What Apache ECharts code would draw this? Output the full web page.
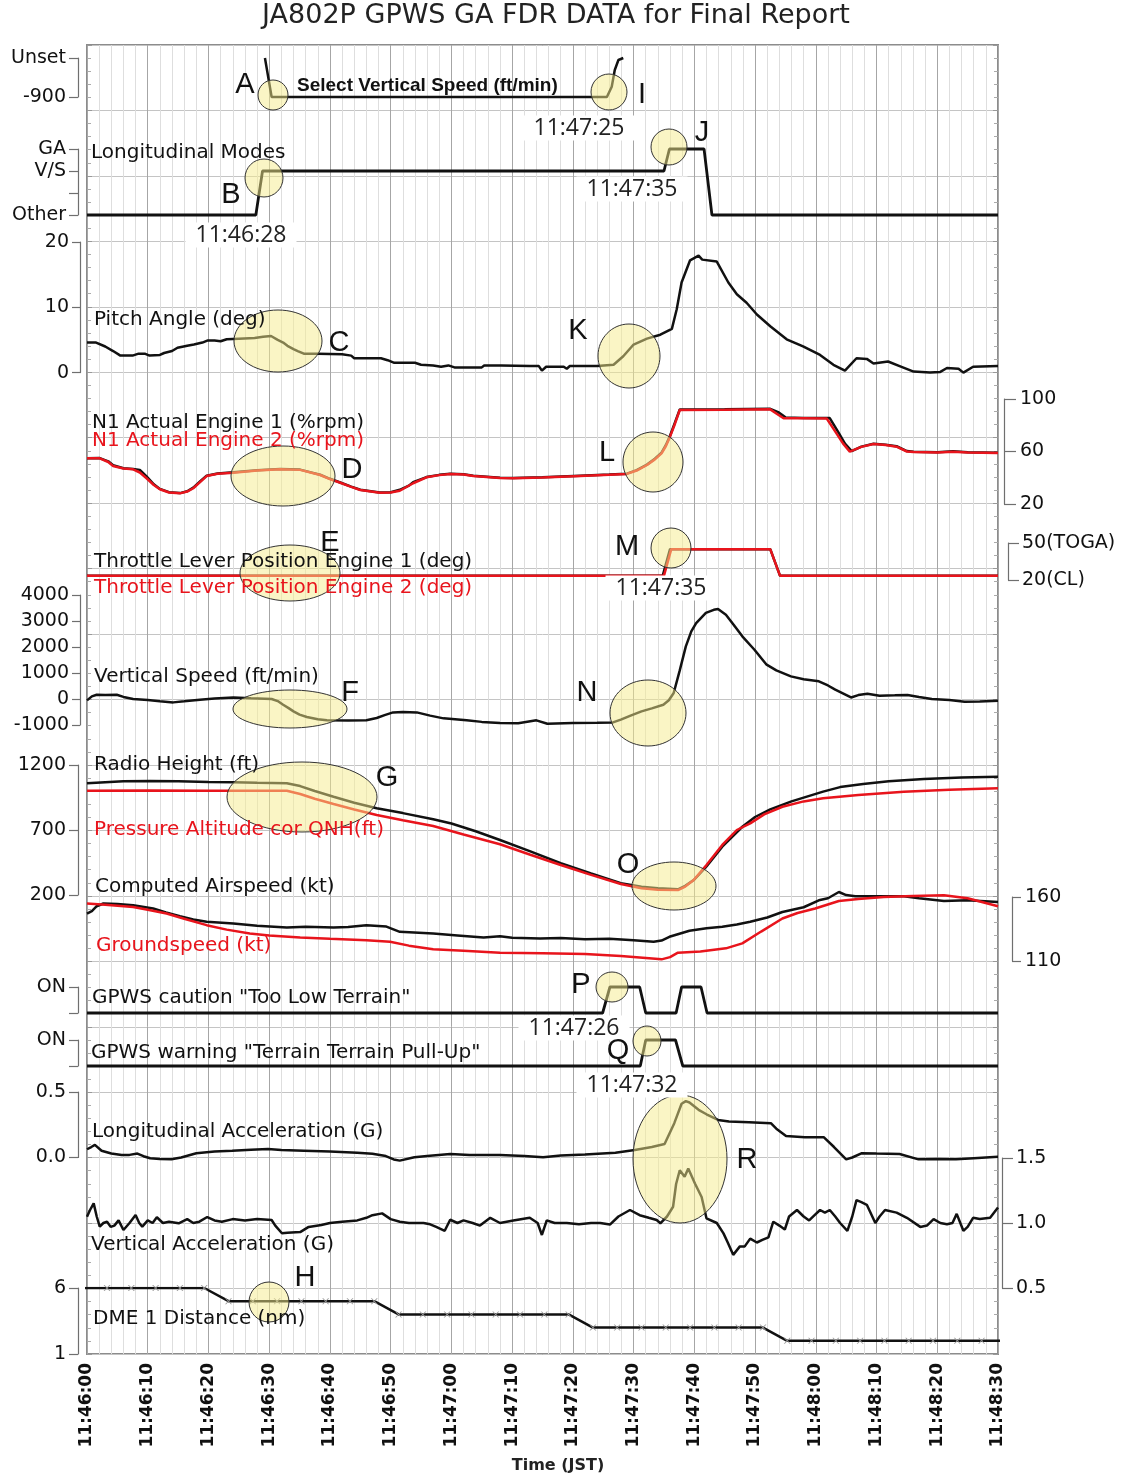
<!DOCTYPE html>
<html>
<head>
<meta charset="utf-8">
<title>JA802P GPWS GA FDR DATA for Final Report</title>
<script src="https://cdn.jsdelivr.net/npm/echarts@6/dist/echarts.min.js"></script>
<style>
  html, body { margin: 0; padding: 0; background: #fff; }
  #chart { width: 1133px; height: 1479px; }
</style>
</head>
<body>
<div id="chart"></div>
<script>
// ---- data: [seconds after 11:46:00, value] ----
const selectVs = [[29.3, 0], [30.4, -900], [85.6, -900], [86.4, -662], [86.9, -277], [87.5, -46], [88.3, 0]]
// 0 = Other, 2 = V/S, 3 = GA
const longModes = [[0, 0], [27.8, 0], [28.9, 2], [95, 2], [95.9, 3], [101.6, 3], [102.9, 0], [150, 0]]

const pitchAngle = [[0, 4.6], [1.5, 4.6], [3, 4.0], [4.3, 3.3], [5.5, 2.6], [7.5, 2.6], [8.5, 2.9], [9.5, 2.9], [10.3, 2.6], [12, 2.7],
  [12.7, 3.0], [14, 3.3], [14.9, 3.8], [16.5, 4.1], [17.6, 4.3], [19, 4.6], [19.8, 4.9], [21, 4.9], [22, 4.8], [23, 5.1], [25, 5.2],
  [27.6, 5.3], [29, 5.5], [30.3, 5.6], [31.4, 5.0], [32.3, 4.6], [33, 4.1], [34, 3.6], [34.7, 3.3], [35.7, 2.9], [38, 2.9], [42, 2.8],
  [43.5, 2.6], [44, 2.2], [48.4, 2.2], [49.5, 1.9], [50.6, 1.5], [54, 1.5], [55, 1.2], [57, 1.1], [58.3, 0.9], [59.5, 1.1], [60.5, 0.8],
  [65, 0.8], [65.4, 1.1], [68.2, 1.1], [72.9, 1.0], [74.4, 1.0], [74.9, 0.3], [75.6, 0.9], [78.5, 0.9], [79, 0.6], [79.5, 1.0], [84, 1.0],
  [86.7, 1.2], [88.3, 2.5], [90, 4.3], [92.2, 5.2], [94.4, 5.8], [96.3, 6.7], [97.1, 9.7], [97.9, 13.8], [99.3, 17.2], [100.7, 17.9],
  [101.3, 17.3], [103.7, 17.0], [105.6, 13.8], [107, 12.0], [108.6, 10.7], [110.3, 8.9], [112.5, 7.1], [115.2, 5.1], [117.9, 4.0],
  [120.7, 2.7], [122.9, 1.2], [124.8, 0.3], [126.7, 2.2], [128.4, 2.1], [129.5, 1.4], [131.9, 1.7], [133.8, 1.0], [136.1, 0.15],
  [138.8, 0.0], [140.5, 0.1], [141.6, 0.7], [143.5, 0.6], [144.3, 0.0], [145.9, 0.9], [150, 1.0]]

const n1Eng1 = [[0, 54.8], [2.1, 55], [3.5, 52.5], [4.3, 49.5], [6, 47.2], [7.6, 46.6], [8.7, 46], [9.8, 41], [11, 35], [12, 31.5],
  [13.5, 29], [15.3, 28.3], [16.5, 29.7], [17.5, 32.5], [18.7, 37.5], [19.7, 41.6], [21.5, 43.2], [24.1, 44.1], [28, 45.7], [31.8, 46.6],
  [35.1, 46.2], [38.4, 42.3], [40, 39.2], [41.7, 36.4], [43.5, 33.2], [45, 30.9], [48.2, 28.8], [50, 29], [51.5, 30.8], [53, 34],
  [53.7, 36.6], [55.9, 40.5], [58, 42.2], [59.8, 43.1], [62, 42.7], [63.6, 41.5], [68, 40], [70.2, 39.8], [75, 40.3], [81.2, 41.5],
  [86, 42.4], [88.9, 43.1], [90.5, 45.8], [92.2, 50], [93.5, 54.5], [94.6, 59.2], [95.3, 64.8], [96, 72], [96.8, 82], [97.6, 92],
  [105, 92.2], [112.5, 92.5], [113.8, 90], [115, 86], [118, 85.5], [122.3, 85.5], [123.8, 74], [124.8, 66], [125.9, 60.3], [127.5, 63.7],
  [129.5, 65.9], [131.5, 65.2], [133.3, 64], [135, 60.3], [136.1, 59.8], [140, 59.4], [142.6, 60.2], [145, 59.5], [150, 59]]
const n1Eng2 = [[0, 54.8], [2.1, 54.8], [3.5, 52], [4.3, 48.9], [6, 47], [7.6, 46.4], [8.7, 44], [9.8, 39.6], [11, 34.5], [12, 31.2],
  [13.5, 28.8], [15.3, 28.1], [16.5, 29.5], [17.5, 32], [18.7, 37], [19.7, 41.3], [21.5, 43], [24.1, 43.9], [28, 45.5], [31.8, 46.4],
  [35.1, 46], [38.4, 42.1], [40, 39], [41.7, 36.2], [43.5, 33], [45, 30.7], [48.2, 28.6], [50, 28.8], [51.5, 30.1], [53.7, 35.8],
  [55.9, 40.3], [58, 42], [59.8, 42.9], [62, 42.5], [63.6, 41.3], [68, 39.8], [70.2, 39.6], [75, 40.1], [81.2, 41.3], [86, 42.2],
  [88.9, 42.9], [90.5, 45.5], [92.2, 49.7], [93.5, 54], [94.6, 58.6], [95.3, 64], [96, 71.3], [96.8, 81], [97.6, 91.6], [105, 91.8],
  [112.5, 92.1], [113.5, 89], [114.7, 85.3], [118, 85.3], [121.8, 85.1], [123.4, 73.8], [124.5, 66], [125.6, 59.9], [127.5, 63.5],
  [129.5, 65.7], [131.5, 65], [133.3, 63.7], [135, 60], [136.1, 59.6], [140, 59.2], [142.6, 59.9], [145, 59.3], [150, 58.8]]

const throttleEng1 = [[0, 23.5], [94.8, 23.5], [96, 45], [112.5, 45], [114.1, 23.5], [150, 23.5]]
const throttleEng2 = [[0, 23.5], [95, 23.5], [96.2, 45], [112.5, 45], [114.1, 23.5], [150, 23.5]]

const verticalSpeed = [[0, -54], [0.8, 100], [1.6, 165], [3, 150], [4.9, 165], [6, 80], [7.6, 0], [10, -40], [12, -90], [14.2, -130],
  [16, -90], [18.6, -27], [21, 20], [24.1, 60], [27, 30], [30.4, 0], [31.4, -80], [32.3, -220], [33.2, -350], [34, -475], [35, -600],
  [36.2, -690], [38, -780], [39.5, -820], [43, -830], [46, -820], [47.7, -730], [49, -620], [50.4, -515], [52, -500], [54.3, -515],
  [56.5, -640], [58.7, -745], [62.5, -820], [65, -880], [68, -925], [71, -930], [74, -820], [75.8, -950], [80, -920], [84, -910],
  [86.6, -900], [87.9, -795], [89.5, -640], [91.3, -475], [93, -360], [94.9, -220], [95.8, -50], [96.6, 230], [97.6, 1100], [98.6, 2025],
  [99.5, 2600], [100.3, 2920], [101.9, 3310], [103.2, 3430], [103.9, 3460], [105.2, 3240], [106.5, 2850], [107.9, 2410], [109.9, 1895],
  [111.9, 1320], [113.5, 1100], [115.9, 870], [118, 760], [120.5, 680], [122, 520], [123.2, 360], [125.8, 60], [127, 150], [128.5, 205],
  [130.5, 125], [133, 140], [135.1, 155], [137, 80], [139.1, 0], [142, -40], [144.5, -105], [147, -100], [150, -70]]

const radioHeight = [[0, 1059], [3, 1068], [6, 1075], [10.4, 1077], [15, 1075], [20, 1070], [24.1, 1067], [28, 1063], [32.9, 1059],
  [35.1, 1038], [37.5, 1000], [40.6, 956], [44, 910], [47.7, 867], [52, 830], [57, 782], [60, 750], [64, 690], [68, 623], [73, 535],
  [78, 444], [83, 365], [87.9, 290], [91.3, 264], [94, 252], [97.3, 244], [98.5, 270], [99.9, 315], [102, 420], [104.6, 572], [107.9, 725],
  [110, 800], [112.5, 859], [116, 920], [121.2, 995], [124, 1030], [127.8, 1054], [132, 1075], [137.8, 1092], [144, 1103], [150, 1110]]
const pressureAlt = [[0, 1002], [10, 1003], [20, 1002], [32.9, 1002], [35.1, 977], [37.5, 940], [40.6, 900], [44, 858], [47.7, 815],
  [52, 775], [57, 731], [62, 665], [68, 590], [73, 510], [78, 431], [83, 355], [87.9, 285], [91.3, 252], [94, 240], [97.3, 238],
  [98.5, 265], [99.9, 315], [102, 430], [104.6, 585], [107, 700], [109.2, 751], [111.5, 820], [114.5, 879], [118, 920], [121.2, 944],
  [127, 970], [134.5, 995], [142, 1010], [150, 1021]]

const airspeed = [[0, 147.1], [0.8, 149], [1.6, 152.8], [2.7, 154.9], [5, 154.5], [7.6, 153.5], [10.9, 151], [13, 148], [15.3, 145],
  [17.5, 142.5], [19.7, 140.6], [24.1, 139.3], [28, 137.5], [32.9, 136.2], [36, 136.8], [40.6, 136.2], [43, 136.5], [46, 138], [49.3, 136.9],
  [51.5, 132.8], [57, 131.5], [61, 130], [65.3, 128.4], [68, 129.4], [70, 128.2], [74.6, 127.6], [78, 128], [82, 127], [86, 127.4],
  [90, 126.3], [93.3, 125], [94.6, 126], [95.9, 128.9], [99.2, 133.6], [102, 135.5], [104.6, 136.7], [107, 138.5], [109.2, 140.6],
  [112, 144], [114.5, 148.3], [118, 152], [120.5, 157.4], [122, 159], [123.8, 163.9], [125, 161.5], [126.5, 160.5], [130, 160.5],
  [134.5, 160.5], [137, 159], [141.1, 156.9], [145, 157.5], [150, 156.1]]
const groundspeed = [[0, 154.9], [3, 154], [7.6, 152.2], [10, 150], [13.1, 147.1], [16, 143], [19.7, 138], [23, 134.5], [26.8, 131.5],
  [30, 130], [35.1, 128.4], [40, 127.3], [46, 126.3], [49.9, 125], [53, 122], [57, 119.1], [62, 118], [68, 116.5], [75, 116], [82, 115.5],
  [87.9, 113.9], [91, 112.8], [94.6, 111.3], [96, 113], [97.3, 116.5], [101, 117.5], [105.2, 119.9], [107.9, 123.8], [111, 133],
  [114.5, 143.2], [117, 147.5], [119.9, 151], [123.8, 156.9], [127, 158.5], [131.2, 160], [136, 160.8], [141.1, 161.3], [145, 159],
  [150, 152.8]]

// 0 = off, 1 = ON
const gpwsCaution = [[0, 0], [84.9, 0], [86.1, 1], [91, 1], [92, 0], [97, 0], [97.9, 1], [101.1, 1], [102.1, 0], [150, 0]]
const gpwsWarning = [[0, 0], [91.1, 0], [92, 1], [96.9, 1], [98.1, 0], [150, 0]]

const lonAccel = [[0, 0.063], [0.7, 0.08], [1.3, 0.096], [2.4, 0.052], [4, 0.03], [5.7, 0.019], [7, 0.02], [8.3, 0.03], [9.3, 0.01],
  [10.4, -0.006], [12, -0.012], [13.9, -0.014], [15.5, 0.0], [18, 0.032], [21, 0.045], [23.9, 0.052], [27, 0.06], [29.8, 0.065],
  [32, 0.058], [35.7, 0.052], [40, 0.045], [44.5, 0.037], [47, 0.028], [49.2, 0.011], [50.5, -0.015], [51.5, -0.024], [53.9, 0.002],
  [56, 0.012], [59.8, 0.027], [63, 0.02], [68, 0.019], [72, 0.012], [75.1, 0.002], [78, 0.015], [82, 0.022], [87, 0.037], [90.2, 0.057],
  [93, 0.08], [95.1, 0.103], [96.7, 0.262], [97.9, 0.41], [98.6, 0.43], [99.2, 0.42], [100.7, 0.364], [102, 0.33], [103.9, 0.287],
  [105.7, 0.274], [109, 0.27], [112.6, 0.262], [113.5, 0.22], [115.1, 0.165], [118.2, 0.155], [121.3, 0.155], [123, 0.08], [125, -0.014],
  [126, 0.0], [127.5, 0.032], [130, 0.03], [133.8, 0.027], [136.9, -0.014], [140, -0.012], [143.1, -0.014], [146, -0.005], [150, 0.006]]

const vertAccel = [[0, 1.048], [0.5, 1.1], [1.1, 1.151], [1.6, 1.05], [2.1, 0.972], [2.7, 1.0], [3.3, 1.01], [3.9, 0.97], [4.5, 0.98],
  [5.2, 1.02], [6, 0.946], [7, 1.0], [8, 1.061], [8.6, 1.0], [9.1, 0.972], [10, 1.02], [10.8, 1.0], [11.5, 1.044], [12.5, 1.0], [13.5, 1.01],
  [15.1, 0.998], [16.5, 1.03], [17.5, 1.0], [18.5, 1.01], [19.8, 1.046], [21, 1.02], [22.2, 1.01], [24, 1.03], [26, 1.02], [28, 1.03],
  [30.4, 1.023], [31, 0.98], [32.1, 0.921], [33, 0.925], [35.1, 0.93], [36.5, 0.97], [38.6, 0.985], [40, 1.0], [42, 1.01], [44.5, 1.02],
  [46, 1.04], [47, 1.06], [48.6, 1.074], [50, 1.03], [51.5, 1.01], [53, 1.0], [55.4, 1.0], [56.5, 0.99], [57.5, 0.97], [58.9, 0.94],
  [59.8, 1.025], [61, 1.0], [62, 1.02], [63.5, 1.0], [64.7, 0.98], [66.4, 1.04], [68, 1.0], [70.2, 1.02], [72.9, 1.04], [74.2, 1.0],
  [74.9, 0.908], [75.7, 1.02], [77, 1.0], [79, 1.0], [81, 0.99], [83, 1.0], [84.5, 1.0], [86.1, 0.988], [87.5, 1.05], [89.4, 1.1],
  [91, 1.06], [92.5, 1.04], [93.8, 1.023], [94.4, 0.998], [95.5, 1.05], [96.5, 1.125], [97, 1.3], [97.6, 1.406], [98.4, 1.355], [99, 1.42],
  [100.1, 1.304], [101.2, 1.2], [102, 1.036], [103.7, 1.0], [104.8, 0.92], [105.5, 0.85], [106.4, 0.755], [107.5, 0.82], [108.3, 0.82],
  [109.2, 0.88], [110.3, 0.85], [111.2, 0.87], [112.2, 0.89], [113, 1.01], [114, 0.98], [114.9, 0.95], [115.6, 1.05], [116.9, 1.1],
  [118, 1.05], [118.9, 1.02], [119.8, 1.06], [120.7, 1.1], [121.5, 1.08], [122.3, 1.1], [123.2, 1.05], [124, 1.0], [125.2, 0.94],
  [126, 1.05], [126.7, 1.176], [127.5, 1.16], [128.4, 1.14], [129.8, 1.0], [130.5, 1.05], [131.4, 1.1], [133.3, 1.08], [135, 1.04],
  [137.2, 0.97], [138.3, 0.98], [139.4, 1.03], [140.5, 1.0], [141.6, 0.99], [142.5, 1.0], [143.2, 1.07], [144.3, 0.94], [145, 0.97],
  [145.9, 1.04], [147, 1.03], [148.7, 1.04], [150, 1.12]]

// DME sampled every 4 s
const dmeDistance = [[-0.7, 6], [3.3, 6], [7.3, 6], [11.3, 6], [15.3, 6], [19.3, 6], [23.3, 5], [27.3, 5], [31.3, 5], [35.3, 5], [39.3, 5],
  [43.3, 5], [47.3, 5], [51.3, 4], [55.3, 4], [59.3, 4], [63.3, 4], [67.3, 4], [71.3, 4], [75.3, 4], [79.3, 4], [83.3, 3], [87.3, 3],
  [91.3, 3], [95.3, 3], [99.3, 3], [103.3, 3], [107.3, 3], [111.3, 3], [115.3, 2], [119.3, 2], [123.3, 2], [127.3, 2], [131.3, 2],
  [135.3, 2], [139.3, 2], [143.3, 2], [147.3, 2], [151.3, 2]]

// ---- layout ----
const W = 1133
const PLOT_L = 87, PLOT_R = 998, PLOT_T = 45, PLOT_B = 1354
const FONT = 'DejaVu Sans'
const BLACK = '#111', RED = '#e8141c'

const grids = [], xAxes = [], yAxes = [], series = []

// background frame with the time axis and grid lines
grids.push({ left: PLOT_L, right: W - PLOT_R, top: PLOT_T, height: PLOT_B - PLOT_T, show: true,
  borderColor: '#8c8c8c', borderWidth: 2, backgroundColor: '#fff', containLabel: false, outerBoundsMode: 'none' })
xAxes.push({
  gridIndex: 0, type: 'value', min: 0, max: 150, interval: 10, position: 'bottom',
  axisLine: { show: false, onZero: false }, axisTick: { show: false },
  axisLabel: {
    rotate: 90, margin: 9, fontSize: 17, fontWeight: 'bold', color: BLACK, fontFamily: FONT,
    formatter: v => {
      const m = 46 + Math.floor(v / 60), s = v % 60
      return '11:' + m + ':' + String(s).padStart(2, '0')
    }
  },
  splitLine: { show: true, lineStyle: { color: '#a6a6a6', width: 1 } },
  minorTick: { show: false, splitNumber: 5 },
  minorSplitLine: { show: true, lineStyle: { color: '#dedede', width: 1 } },
  name: 'Time (JST)', nameLocation: 'middle', nameGap: 104,
  nameTextStyle: { fontSize: 16, fontWeight: 'bold', color: '#222', fontFamily: FONT, padding: [0, 0, 0, 31] }
})
const frameY = side => ({
  gridIndex: 0, type: 'value', min: 0, max: 20, interval: 1, position: side,
  axisLine: { show: false, onZero: false },
  axisTick: { show: true, inside: true, length: 5, lineStyle: { color: '#999' } },
  minorTick: { show: true, splitNumber: 5, length: 4, lineStyle: { color: '#aaa' } },
  axisLabel: { show: false },
  splitLine: { show: side === 'left', lineStyle: { color: '#c4c4c4', width: 1 } }
})
yAxes.push(frameY('left'), frameY('right'))

// one thin grid per trace band, with its own bracket axis
function addPanel(p) {
  const gi = grids.length
  grids.push({ left: PLOT_L, right: W - PLOT_R, top: p.top, height: p.height, containLabel: false, outerBoundsMode: 'none' })
  xAxes.push({ gridIndex: gi, type: 'value', min: 0, max: 150, show: false, axisLine: { onZero: false } })
  const side = p.side || 'left'
  yAxes.push({
    gridIndex: gi, type: 'value', position: side, offset: p.offset, min: p.min, max: p.max,
    axisLine: { show: true, onZero: false, lineStyle: { color: '#6f6f6f', width: 1.2 } },
    axisTick: { show: true, inside: false, length: p.tick, customValues: p.ticks, lineStyle: { color: '#6f6f6f', width: 1.2 } },
    axisLabel: {
      customValues: p.labels || p.ticks, formatter: p.fmt || (v => String(v)), margin: p.margin,
      showMinLabel: true, showMaxLabel: true, fontSize: 19, color: BLACK, fontFamily: FONT
    },
    splitLine: { show: false }
  })
  return { x: xAxes.length - 1, y: yAxes.length - 1 }
}
const leftBracket = { offset: 9, tick: 9, margin: 12 }

const pSelVs = addPanel({ ...leftBracket, top: 58, height: 39, min: -900, max: 0, ticks: [-900, 0],
  fmt: v => (v === 0 ? 'Unset' : String(v)) })
const pModes = addPanel({ ...leftBracket, top: 149, height: 66, min: 0, max: 3, ticks: [0, 1, 2, 3], labels: [0, 2, 3],
  fmt: v => ({ 0: 'Other', 2: 'V/S', 3: 'GA' }[v] || '') })
const pPitch = addPanel({ offset: 7, tick: 8, margin: 11, top: 242, height: 130.6, min: 0, max: 20, ticks: [0, 10, 20] })
const pN1 = addPanel({ side: 'right', offset: 6, tick: 12, margin: 16, top: 399, height: 105, min: 20, max: 100, ticks: [20, 60, 100] })
const pThr = addPanel({ side: 'right', offset: 10, tick: 11, margin: 14, top: 543, height: 37, min: 20, max: 50, ticks: [20, 50],
  fmt: v => (v === 50 ? '50(TOGA)' : '20(CL)') })
const pVs = addPanel({ offset: 7, tick: 8, margin: 11, top: 595, height: 130, min: -1000, max: 4000,
  ticks: [-1000, 0, 1000, 2000, 3000, 4000] })
const pAlt = addPanel({ ...leftBracket, top: 765, height: 130, min: 200, max: 1200, ticks: [200, 700, 1200] })
const pSpd = addPanel({ side: 'right', offset: 14, tick: 9, margin: 13, top: 897, height: 64, min: 110, max: 160, ticks: [110, 160] })
const pCaut = addPanel({ ...leftBracket, top: 987, height: 26, min: 0, max: 1, ticks: [0, 1], labels: [1], fmt: () => 'ON' })
const pWarn = addPanel({ ...leftBracket, top: 1040, height: 26, min: 0, max: 1, ticks: [0, 1], labels: [1], fmt: () => 'ON' })
const pLon = addPanel({ ...leftBracket, top: 1092, height: 65.5, min: 0, max: 0.5, ticks: [0, 0.5], fmt: v => v.toFixed(1) })
const pVert = addPanel({ side: 'right', offset: 4, tick: 11, margin: 14, top: 1158, height: 130, min: 0.5, max: 1.5,
  ticks: [0.5, 1, 1.5], fmt: v => v.toFixed(1) })
const pDme = addPanel({ ...leftBracket, top: 1288, height: 66, min: 1, max: 6, ticks: [1, 6] })

function trace(panel, data, color, width, extra) {
  series.push(Object.assign({
    type: 'line', xAxisIndex: panel.x, yAxisIndex: panel.y, data: data,
    showSymbol: false, symbol: 'none', clip: false, silent: true, animation: false, z: 3,
    lineStyle: { color: color, width: width || 2.5 }
  }, extra || {}))
}

trace(pSelVs, selectVs, BLACK, 2.5)
trace(pModes, longModes, BLACK, 2.8)
trace(pPitch, pitchAngle, BLACK, 2.5)
trace(pN1, n1Eng1, BLACK, 2.5)
trace(pN1, n1Eng2, RED, 2.5)
trace(pThr, throttleEng1, BLACK, 2.5)
trace(pThr, throttleEng2, RED, 2.5)
trace(pVs, verticalSpeed, BLACK, 2.5)
trace(pAlt, radioHeight, BLACK, 2.5)
trace(pAlt, pressureAlt, RED, 2.5)
trace(pSpd, airspeed, BLACK, 2.5)
trace(pSpd, groundspeed, RED, 2.5)
trace(pCaut, gpwsCaution, BLACK, 2.8)
trace(pWarn, gpwsWarning, BLACK, 2.8)
trace(pLon, lonAccel, BLACK, 2.5)
trace(pVert, vertAccel, BLACK, 2.5)
trace(pDme, dmeDistance, BLACK, 2.5, {
  clip: true, showSymbol: true, showAllSymbol: true, symbolSize: [7, 6],
  symbol: 'path://M0 0L1.6 0L5 3.3L8.4 0L10 0L5.9 4L10 8L8.4 8L5 4.7L1.6 8L0 8L4.1 4Z',
  itemStyle: { color: '#9a9a9a' }
})

// ---- annotations from the report ----
const traceNames = [
  ['Longitudinal Modes', 91, 153, BLACK],
  ['Pitch Angle (deg)', 94, 320, BLACK],
  ['N1 Actual Engine 1 (%rpm)', 92, 423, BLACK],
  ['N1 Actual Engine 2 (%rpm)', 92, 441, RED],
  ['Throttle Lever Position Engine 1 (deg)', 94, 562, BLACK],
  ['Throttle Lever Position Engine 2 (deg)', 94, 588, RED],
  ['Vertical Speed (ft/min)', 94, 677, BLACK],
  ['Radio Height (ft)', 94, 765, BLACK],
  ['Pressure Altitude cor QNH(ft)', 94, 830, RED],
  ['Computed Airspeed (kt)', 95, 887, BLACK],
  ['Groundspeed (kt)', 96, 946, RED],
  ['GPWS caution "Too Low Terrain"', 92, 998, BLACK],
  ['GPWS warning "Terrain Terrain Pull-Up"', 91, 1053, BLACK],
  ['Longitudinal Acceleration (G)', 92, 1132, BLACK],
  ['Vertical Acceleration (G)', 91, 1245, BLACK],
  ['DME 1 Distance (nm)', 93, 1319, BLACK]
]
const highlights = [
  [273, 95, 15, 15], [609, 92, 18, 18], [264, 178, 19, 19], [669, 147, 18, 18],
  [278, 341, 44, 31], [629, 356, 31, 32], [283, 476, 52, 30], [653, 462, 30, 30],
  [290, 573, 50, 28], [671, 548, 20, 20], [290, 709, 57, 19], [648, 713, 38, 33],
  [302, 797, 75, 35], [674, 886, 42, 24], [612, 987, 16, 15], [647, 1041, 14, 15],
  [680, 1159, 47, 64], [269, 1302, 20, 20]
]
const letters = [
  ['A', 245, 85], ['B', 231, 195], ['C', 339, 343], ['D', 352, 470], ['E', 330, 543], ['F', 350, 693],
  ['G', 387, 778], ['H', 305, 1278], ['I', 642, 95], ['J', 702, 133], ['K', 578, 331], ['L', 607, 453],
  ['M', 627, 547], ['N', 587, 693], ['O', 628, 865], ['P', 581, 985], ['Q', 618, 1051], ['R', 747, 1160]
]
const timeTags = [
  ['11:46:28', 241, 235], ['11:47:25', 579, 128], ['11:47:35', 632, 189],
  ['11:47:35', 661, 588], ['11:47:26', 574, 1028], ['11:47:32', 632, 1085]
]

const txt = (text, x, y, font, fill, align, extra) => ({
  type: 'text', x: x, y: y, z: 120, silent: true,
  style: Object.assign({ text: text, font: font, fill: fill, textAlign: align, align: align,
    textVerticalAlign: 'middle', verticalAlign: 'middle' }, extra || {})
})

const graphics = [
  txt('JA802P GPWS GA FDR DATA for Final Report', 556, 16, '27px "DejaVu Sans"', '#222', 'center'),
  txt('Select Vertical Speed (ft/min)', 297, 86, 'bold 19px "Liberation Sans"', BLACK, 'left')
]
traceNames.forEach(([t, x, y, c]) => graphics.push(txt(t, x, y, '20px "DejaVu Sans"', c, 'left')))
timeTags.forEach(([t, x, y]) => graphics.push(txt(t, x, y, '23px "Open Sans"', '#222', 'center',
  { backgroundColor: '#fff', padding: [1, 10] })))
highlights.forEach(([cx, cy, rx, ry]) => graphics.push({
  type: 'ellipse', z: 110, silent: true, shape: { cx: cx, cy: cy, rx: rx, ry: ry },
  style: { fill: 'rgba(245,236,140,0.5)', stroke: '#333', lineWidth: 1 }
}))
letters.forEach(([t, x, y]) => graphics.push(txt(t, x, y, '29px "Liberation Sans"', BLACK, 'center')))

const chart = echarts.init(document.getElementById('chart'), null, { renderer: 'canvas', width: 1133, height: 1479 })
chart.setOption({
  animation: false,
  backgroundColor: '#fff',
  grid: grids,
  xAxis: xAxes,
  yAxis: yAxes,
  series: series,
  graphic: graphics
})
</script>
